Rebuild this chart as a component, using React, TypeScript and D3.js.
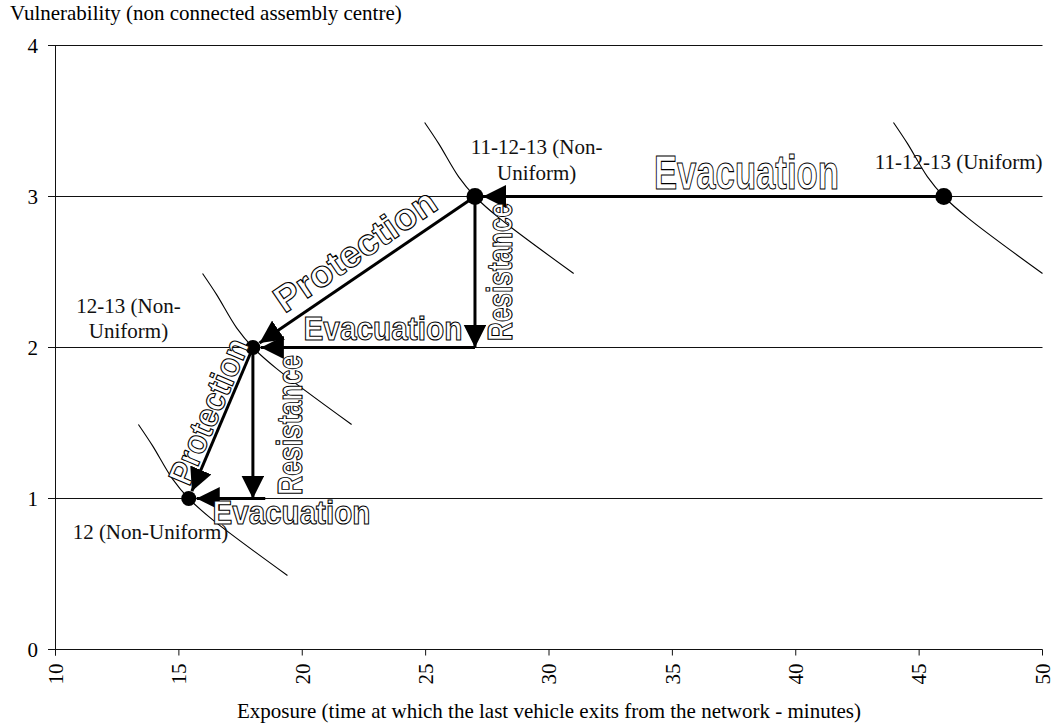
import React, { useEffect, useRef } from 'react';
import * as d3 from 'd3';

// axis ticks
const xTicks = [10, 15, 20, 25, 30, 35, 40, 45, 50];
const yTicks = [0, 1, 2, 3, 4];

// scenario points: exposure (minutes), vulnerability level
const scenarioX = [46, 27, 18, 15.4];
const scenarioY = [3, 3, 2, 1];

// iso-curves through each scenario point
const curveUniform = [[43.96, 3.49], [44.53, 3.35], [45.34, 3.13], [46, 3.0], [46.96, 2.86], [50, 2.49]];
const curveNU3 = [[24.96, 3.49], [25.53, 3.35], [26.34, 3.13], [27, 3.0], [27.96, 2.86], [31, 2.49]];
const curveNU2 = [[15.96, 2.49], [16.53, 2.35], [17.34, 2.13], [18, 2.0], [18.96, 1.86], [22, 1.49]];
const curveNU1 = [[13.36, 1.49], [13.93, 1.35], [14.74, 1.13], [15.4, 1.0], [16.36, 0.86], [19.4, 0.49]];

// arrows between scenarios: [fromX, fromY, toX, toY, endsAtDot]
const arrowEvac3: [number, number, number, number, boolean] = [46, 3, 27, 3, true];
const arrowRes3: [number, number, number, number, boolean] = [27, 3, 27, 2, false];
const arrowEvac2: [number, number, number, number, boolean] = [27, 2, 18, 2, true];
const arrowProt3: [number, number, number, number, boolean] = [27, 3, 18, 2, true];
const arrowRes2: [number, number, number, number, boolean] = [18, 2, 18, 1, false];
const arrowEvac1: [number, number, number, number, boolean] = [18.5, 1, 15.4, 1, true];
const arrowProt2: [number, number, number, number, boolean] = [18, 2, 15.4, 1, true];

const labelNU3 = ['11-12-13 (Non-', 'Uniform)'];
const labelU = '11-12-13 (Uniform)';
const labelNU2 = ['12-13 (Non-', 'Uniform)'];
const labelNU1 = '12 (Non-Uniform)';

const xTitle = 'Exposure (time at which the last vehicle exits from the network - minutes)';
const yTitle = 'Vulnerability (non connected assembly centre)';

const App = () => {
    const ref = useRef<SVGSVGElement>(null);

    useEffect(() => {
        const svg = d3.select(ref.current);
        svg.selectAll('*').remove();

        const serif = '"Liberation Serif", "Times New Roman", serif';
        const sans = '"Liberation Sans", Arial, sans-serif';
        const fs = 21;

        const x = d3.scaleLinear().domain([10, 50]).range([55.5, 1042.5]);
        const y = d3.scaleLinear().domain([0, 4]).range([649.5, 45.5]);

        const defs = svg.append('defs');
        defs.append('marker')
            .attr('id', 'head')
            .attr('viewBox', '0 0 10 10')
            .attr('refX', 10)
            .attr('refY', 5)
            .attr('markerWidth', 23)
            .attr('markerHeight', 23)
            .attr('markerUnits', 'userSpaceOnUse')
            .attr('orient', 'auto')
            .append('path')
            .attr('d', 'M0,0L10,5L0,10Z')
            .attr('fill', '#000');

        // gridlines + axes
        svg.selectAll('.grid')
            .data(yTicks)
            .enter()
            .append('line')
            .attr('x1', 48)
            .attr('x2', x(50))
            .attr('y1', d => y(d))
            .attr('y2', d => y(d))
            .attr('stroke', '#111')
            .attr('stroke-width', 1);

        svg.append('line')
            .attr('x1', x(10)).attr('x2', x(10))
            .attr('y1', y(4)).attr('y2', y(0) + 6)
            .attr('stroke', '#111').attr('stroke-width', 1);

        svg.selectAll('.xtick')
            .data(xTicks)
            .enter()
            .append('line')
            .attr('x1', d => x(d)).attr('x2', d => x(d))
            .attr('y1', y(0)).attr('y2', y(0) + 6)
            .attr('stroke', '#111').attr('stroke-width', 1);

        svg.selectAll('.xlabel')
            .data(xTicks)
            .enter()
            .append('text')
            .attr('transform', d => `translate(${x(d)}, ${y(0) + 14}) rotate(-90)`)
            .attr('text-anchor', 'end')
            .attr('dy', '0.35em')
            .attr('font-family', serif)
            .attr('font-size', fs)
            .text(d => d);

        svg.selectAll('.ylabel')
            .data(yTicks)
            .enter()
            .append('text')
            .attr('x', 38)
            .attr('y', d => y(d))
            .attr('dy', '0.35em')
            .attr('text-anchor', 'end')
            .attr('font-family', serif)
            .attr('font-size', fs)
            .text(d => d);

        svg.append('text')
            .attr('x', 10).attr('y', 20)
            .attr('font-family', serif).attr('font-size', fs)
            .text(yTitle);

        svg.append('text')
            .attr('x', (x(10) + x(50)) / 2).attr('y', 718)
            .attr('text-anchor', 'middle')
            .attr('font-family', serif).attr('font-size', fs)
            .text(xTitle);

        // iso-curves
        const line = d3.line<number[]>()
            .x(d => x(d[0]))
            .y(d => y(d[1]))
            .curve(d3.curveCatmullRom);

        [curveUniform, curveNU3, curveNU2, curveNU1].forEach(c => {
            svg.append('path')
                .attr('d', line(c))
                .attr('fill', 'none')
                .attr('stroke', '#000')
                .attr('stroke-width', 1.1);
        });

        // arrows
        const dotR = 8;
        [arrowEvac3, arrowRes3, arrowEvac2, arrowProt3, arrowRes2, arrowEvac1, arrowProt2].forEach(a => {
            const x0 = x(a[0]), y0 = y(a[1]);
            let x1 = x(a[2]), y1 = y(a[3]);
            if (a[4]) {
                const len = Math.hypot(x1 - x0, y1 - y0);
                x1 -= (x1 - x0) / len * dotR;
                y1 -= (y1 - y0) / len * dotR;
            }
            svg.append('line')
                .attr('x1', x0).attr('y1', y0)
                .attr('x2', x1).attr('y2', y1)
                .attr('stroke', '#000')
                .attr('stroke-width', 3)
                .attr('marker-end', 'url(#head)');
        });

        // scenario dots
        svg.selectAll('.dot')
            .data(scenarioX)
            .enter()
            .append('circle')
            .attr('cx', d => x(d))
            .attr('cy', (d, i) => y(scenarioY[i]))
            .attr('r', (d, i) => (i < 2 ? 8.5 : 7.5))
            .attr('fill', '#000');

        // hollow annotation text, squeezed to the wanted length with a scale
        const hollow = (t: string, size: number, len: number, transform: string) => {
            const g = svg.append('g').attr('transform', transform);
            const txt = g.append('text')
                .attr('text-anchor', 'middle')
                .attr('font-family', sans)
                .attr('font-weight', 'bold')
                .attr('font-size', size)
                .attr('fill', '#fff')
                .attr('stroke', '#000')
                .attr('stroke-width', 1.1)
                .text(t);
            const natural = (txt.node() as SVGTextElement).getComputedTextLength() || len;
            txt.attr('transform', `scale(${len / natural}, 1)`);
            return txt;
        };

        hollow('Evacuation', 48, 185, `translate(${x(38)}, ${y(3) - 8})`);
        hollow('Evacuation', 33, 159, `translate(${x(23.27)}, ${y(2) - 8})`);
        hollow('Evacuation', 33, 158, `translate(${x(19.56)}, ${y(1) + 25})`);
        hollow('Resistance', 35, 138, `translate(${x(27) + 37}, ${(y(3) + y(2)) / 2}) rotate(-90)`);
        hollow('Resistance', 35, 140, `translate(${x(18) + 49}, ${(y(2) + y(1)) / 2 + 2}) rotate(-90)`);

        const along = (a: [number, number, number, number, boolean], dist: number, off: number) => {
            const lx = x(a[2]), ly = y(a[3]);
            const hx = x(a[0]), hy = y(a[1]);
            const len = Math.hypot(hx - lx, hy - ly);
            const ux = (hx - lx) / len, uy = (hy - ly) / len;
            const nx = uy, ny = -ux;
            const cx = lx + ux * dist + nx * off;
            const cy = ly + uy * dist + ny * off;
            const ang = Math.atan2(uy, ux) * 180 / Math.PI;
            return `translate(${cx}, ${cy}) rotate(${ang})`;
        };
        hollow('Protection', 37, 188, along(arrowProt3, 139, 10));
        hollow('Protection', 34, 155, along(arrowProt2, 88, 4));

        // scenario labels
        const label = (t: string, px: number, py: number, anchor = 'middle') =>
            svg.append('text')
                .attr('x', px).attr('y', py)
                .attr('text-anchor', anchor)
                .attr('font-family', serif)
                .attr('font-size', fs)
                .attr('fill', '#111')
                .text(t);

        label(labelNU3[0], x(29.5), y(3) - 43);
        label(labelNU3[1], x(29.5), y(3) - 17);
        label(labelU, x(50), y(3) - 28, 'end');
        label(labelNU2[0], x(12.96), y(2) - 35);
        label(labelNU2[1], x(12.96), y(2) - 10);
        label(labelNU1, x(13.85), y(1) + 40);
    }, []);

    return (
        <svg
            ref={ref}
            width={1056}
            height={725}
            style={{ position: 'absolute', left: 0, top: 0, background: '#fff' }}
        />
    );
};

export default App;
